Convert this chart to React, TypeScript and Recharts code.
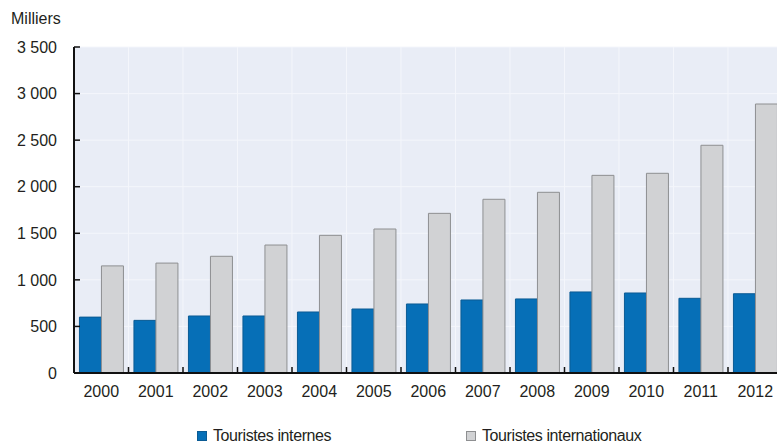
import { Bar, BarChart, CartesianGrid, Legend, XAxis, YAxis } from "recharts";

const years = ["2000", "2001", "2002", "2003", "2004", "2005", "2006", "2007", "2008", "2009", "2010", "2011", "2012"];
const internes = [600, 565, 612, 612, 655, 687, 741, 784, 795, 870, 859, 802, 851];
const internationaux = [1150, 1180, 1253, 1374, 1478, 1546, 1714, 1865, 1940, 2122, 2144, 2445, 2888];
const yTicks = [0, 500, 1000, 1500, 2000, 2500, 3000, 3500];

const BLUE = "#066fb7";
const GREY = "#d1d2d4";
const TEXT = "#231f20";
const FONT = "'Liberation Sans', Arial, sans-serif";

const data = years.map((year, i) => ({
  year,
  internes: internes[i],
  internationaux: internationaux[i],
}));

function fmt(v: number) {
  if (v < 1000) return String(v);
  return `${Math.floor(v / 1000)} ${String(v % 1000).padStart(3, "0")}`;
}

function XTick(props: any) {
  const { x, y, payload, index } = props;
  const left = x - (payload.offset ?? 0);
  return (
    <g>
      {index > 0 && <line x1={left} x2={left} y1={y - 6} y2={y} stroke="#111" strokeWidth={1.5} />}
      <text x={x} y={y + 24} textAnchor="middle" fontSize={16} fill={TEXT} fontFamily={FONT}>
        {payload.value}
      </text>
    </g>
  );
}

function YTick(props: any) {
  const { x, y, payload } = props;
  return (
    <g>
      <line x1={x} x2={x + 6} y1={y} y2={y} stroke="#111" strokeWidth={1.5} />
      <text x={x - 17} y={y} dy="0.36em" textAnchor="end" fontSize={16} fill={TEXT} fontFamily={FONT}>
        {fmt(payload.value)}
      </text>
    </g>
  );
}

function LegendBox() {
  const item = (color: string, stroke: string, label: string, left: number) => (
    <div style={{ position: "absolute", left, top: 24, display: "flex", alignItems: "center" }}>
      <span style={{ width: 10, height: 10, background: color, border: `1px solid ${stroke}`, boxSizing: "border-box", marginRight: 6 }} />
      <span style={{ fontSize: 16, lineHeight: "18px", letterSpacing: -0.4, color: TEXT, fontFamily: FONT }}>{label}</span>
    </div>
  );
  return (
    <div style={{ position: "relative", height: 42, width: 790 }}>
      {item(BLUE, "#0b5b94", "Touristes internes", 189)}
      {item(GREY, "#8e8f91", "Touristes internationaux", 458)}
    </div>
  );
}

export default function App() {
  return (
    <div
      style={{
        position: "fixed",
        left: 0,
        top: 0,
        width: 777,
        height: 445,
        overflow: "hidden",
        background: "#fff",
        fontFamily: FONT,
      }}
    >
      <div style={{ position: "absolute", left: 8, top: 8 }}>
        <svg width={100} height={30} style={{ position: "absolute", left: 0, top: 0 }}>
          <text x={3} y={16} fontSize={16} fill={TEXT} fontFamily={FONT}>
            Milliers
          </text>
        </svg>
        <BarChart
          width={790}
          height={437}
          data={data}
          margin={{ top: 39, right: 15.5, bottom: 0, left: 0 }}
          barCategoryGap="10%"
          barGap={0}
        >
          <CartesianGrid
            fill="#e9edf6"
            stroke="#f4f6fb"
            strokeWidth={1}
            verticalCoordinatesGenerator={({ offset }: any) =>
              years.slice(1).map((_, i) => offset.left + ((i + 1) * offset.width) / years.length)
            }
          />
          <XAxis
            dataKey="year"
            height={30}
            tickSize={0}
            tickMargin={0}
            tickLine={false}
            axisLine={{ stroke: "#111", strokeWidth: 2 }}
            tick={<XTick />}
            interval={0}
          />
          <YAxis
            width={66}
            domain={[0, 3500]}
            ticks={yTicks}
            tickSize={0}
            tickMargin={0}
            tickLine={false}
            axisLine={{ stroke: "#111", strokeWidth: 2 }}
            tick={<YTick />}
            interval={0}
          />
          <Bar dataKey="internes" name="Touristes internes" fill={BLUE} stroke="#0b5b94" strokeWidth={1} isAnimationActive={false} />
          <Bar dataKey="internationaux" name="Touristes internationaux" fill={GREY} stroke="#8e8f91" strokeWidth={1} isAnimationActive={false} />
          <Legend verticalAlign="bottom" content={() => <LegendBox />} />
        </BarChart>
      </div>
    </div>
  );
}
